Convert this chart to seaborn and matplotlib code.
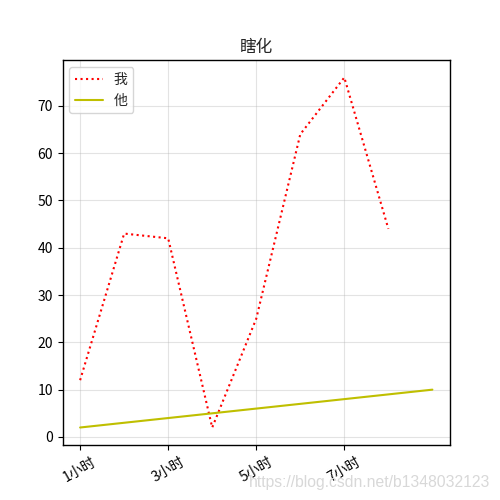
import pandas as pd
import seaborn as sns
import matplotlib
matplotlib.use('Agg')
import matplotlib.pyplot as plt

# data
hours_me = [1, 2, 3, 4, 5, 6, 7, 8]
values_me = [12, 43, 42, 2, 25, 64, 76, 44]
hours_him = [1, 2, 3, 4, 5, 6, 7, 8, 9]
values_him = [2, 3, 4, 5, 6, 7, 8, 9, 10]
tick_pos = [1, 3, 5, 7]
tick_labels = ['1小时', '3小时', '5小时', '7小时']

sns.set_style('white')
plt.rcParams['font.family'] = ['Noto Sans CJK SC', 'DejaVu Sans']
plt.rcParams['axes.unicode_minus'] = False

df_me = pd.DataFrame({'hour': hours_me, 'value': values_me})
df_him = pd.DataFrame({'hour': hours_him, 'value': values_him})

fig, ax = plt.subplots(figsize=(5, 5), dpi=100)
sns.lineplot(data=df_me, x='hour', y='value', ax=ax, color='r',
             linestyle=':', label='我')
sns.lineplot(data=df_him, x='hour', y='value', ax=ax, color='y',
             label='他')

ax.set_xticks(tick_pos)
ax.set_xticklabels(tick_labels, rotation=30)
ax.set_xlabel('')
ax.set_ylabel('')
ax.set_title('瞎化', fontsize=12)
ax.grid(True, color='#b0b0b0', alpha=0.35, linewidth=0.8)
ax.tick_params(left=True, bottom=True, direction='out', length=3.5,
               color='black', labelcolor='black')
for s in ax.spines.values():
    s.set_color('black')
    s.set_linewidth(1)
ax.legend(loc='upper left')

# CSDN watermark
fig.text(0.98, 0.035, 'https://blog.csdn.net/b1348032123', ha='right',
         va='center', color='#d8d8d8', fontsize=11.3,
         family=['Liberation Sans', 'DejaVu Sans'])

fig.savefig('out.png', dpi=100)
